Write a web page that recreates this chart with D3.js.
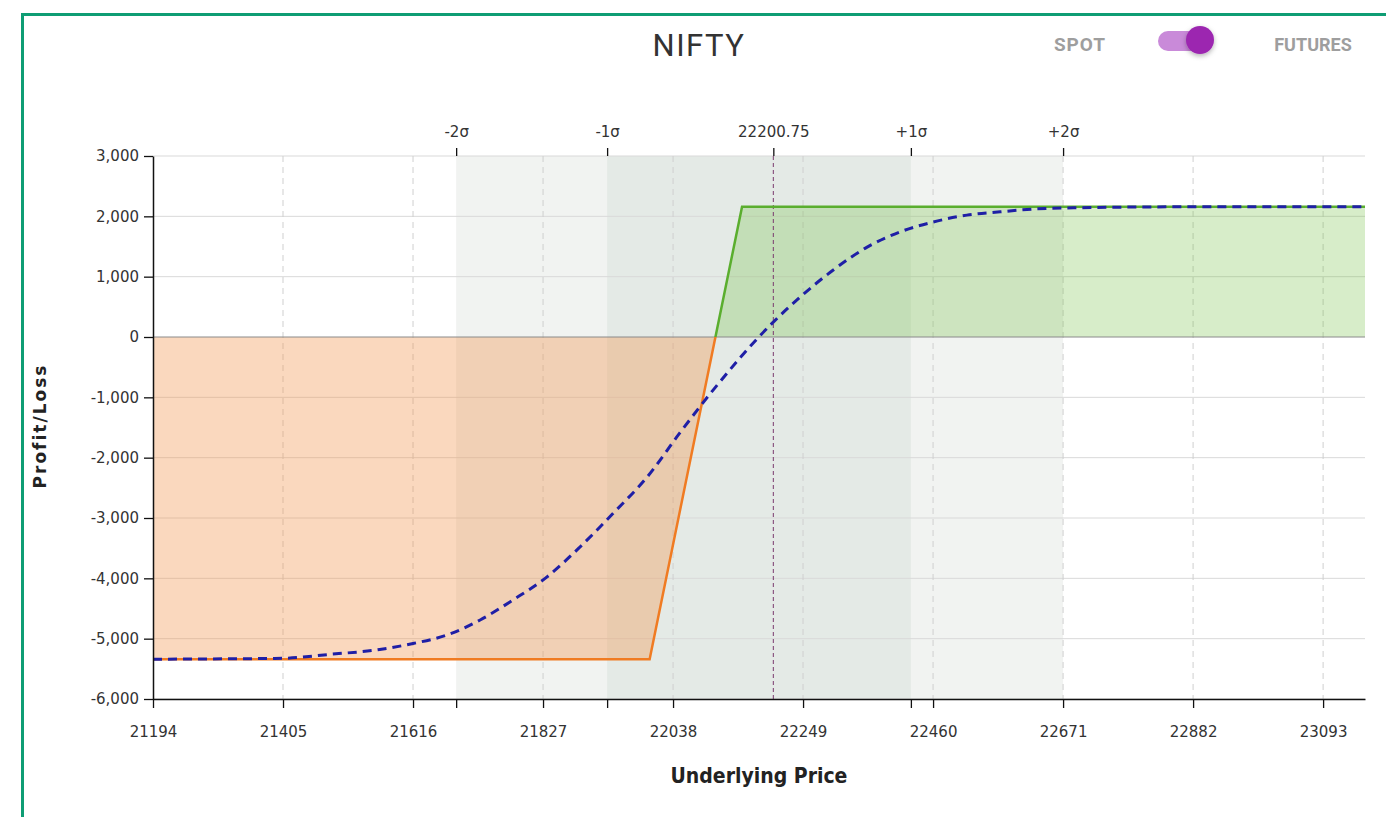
<!DOCTYPE html>
<html>
<head>
<meta charset="utf-8">
<script src="https://cdn.jsdelivr.net/npm/d3@7"></script>
<style>
  body { margin: 0; background: #fff; }
  svg { display: block; }
  .tick text { font-family: "DejaVu Sans", Verdana, sans-serif; font-size: 15px; fill: #333; }
</style>
</head>
<body>
<svg id="chart" width="1386" height="817"></svg>
<script>
// ticks along the price axis
const xTicks = [21194, 21405, 21616, 21827, 22038, 22249, 22460, 22671, 22882, 23093];
const yTicks = [3000, 2000, 1000, 0, -1000, -2000, -3000, -4000, -5000, -6000];

// standard deviation markers (top axis)
const sigmaLabels = ["-2σ", "-1σ", "22200.75", "+1σ", "+2σ"];
const sigmaPrices = [21686, 21931, 22200.75, 22424, 22671];

// payoff at expiry
const expiryPrice = [21194, 22000, 22150, 23161];
const expiryPnl = [-5340, -5340, 2160, 2160];

// payoff today (dashed curve)
const targetPrice = [21194, 21405, 21481, 21562, 21616, 21671, 21725, 21778, 21833, 21887, 21941, 21996,
  22049, 22103, 22199, 22244, 22298, 22353, 22406, 22460, 22515, 22569, 22622, 22677, 22882, 23161];
const targetPnl = [-5340, -5325, -5260, -5180, -5080, -4940, -4690, -4360, -3980, -3480, -2920, -2320,
  -1590, -880, 230, 660, 1110, 1490, 1740, 1905, 2020, 2075, 2120, 2140, 2158, 2160];

const svg = d3.select("#chart");

const mLeft = 153, mRight = 1365, mTop = 156, mBottom = 699;

const x = d3.scaleLinear().domain([21194, 23161]).range([mLeft, mRight]);
const y = d3.scaleLinear().domain([-6000, 3000]).range([mBottom, mTop]);

// green frame
svg.append("path")
  .attr("d", "M22.5,817 L22.5,14.5 L1386,14.5")
  .attr("fill", "none")
  .attr("stroke", "#0f9d74")
  .attr("stroke-width", 3);

// title + toggle
svg.append("text")
  .attr("x", 699).attr("y", 56)
  .attr("text-anchor", "middle")
  .style("font-family", "Roboto, sans-serif")
  .style("font-size", "31px")
  .style("letter-spacing", "1.5px")
  .style("fill", "#333")
  .text("NIFTY");

svg.append("text")
  .attr("x", 1080).attr("y", 51)
  .attr("text-anchor", "middle")
  .style("font-family", "Roboto, sans-serif")
  .style("font-weight", "bold")
  .style("font-size", "19px")
  .style("letter-spacing", "1px")
  .style("fill", "#9e9e9e")
  .text("SPOT");

svg.append("text")
  .attr("x", 1313).attr("y", 51)
  .attr("text-anchor", "middle")
  .style("font-family", "Roboto, sans-serif")
  .style("font-weight", "bold")
  .style("font-size", "18px")
  .style("fill", "#9e9e9e")
  .text("FUTURES");

const defs = svg.append("defs");
const shadow = defs.append("filter").attr("id", "knobShadow").attr("x", "-50%").attr("y", "-50%").attr("width", "200%").attr("height", "200%");
shadow.append("feDropShadow").attr("dx", 0).attr("dy", 2).attr("stdDeviation", 2.5).attr("flood-color", "#000").attr("flood-opacity", 0.3);

svg.append("rect")
  .attr("x", 1158).attr("y", 31)
  .attr("width", 46).attr("height", 20)
  .attr("rx", 10)
  .attr("fill", "#c98ad9");

svg.append("circle")
  .attr("cx", 1200).attr("cy", 40)
  .attr("r", 14)
  .attr("fill", "#9c27b0")
  .attr("filter", "url(#knobShadow)");

// sigma bands
svg.append("rect")
  .attr("x", x(sigmaPrices[0])).attr("y", mTop)
  .attr("width", x(sigmaPrices[4]) - x(sigmaPrices[0]))
  .attr("height", mBottom - mTop)
  .attr("fill", "#f1f3f1");

svg.append("rect")
  .attr("x", x(sigmaPrices[1])).attr("y", mTop)
  .attr("width", x(sigmaPrices[3]) - x(sigmaPrices[1]))
  .attr("height", mBottom - mTop)
  .attr("fill", "#e4eae6");

// grid
svg.append("g")
  .selectAll("line")
  .data(yTicks.filter(d => d !== 0))
  .join("line")
  .attr("x1", mLeft).attr("x2", mRight)
  .attr("y1", d => y(d)).attr("y2", d => y(d))
  .attr("stroke", "#d9d9d9")
  .attr("stroke-width", 1);

svg.append("g")
  .selectAll("line")
  .data(xTicks.slice(1))
  .join("line")
  .attr("x1", d => x(d)).attr("x2", d => x(d))
  .attr("y1", mTop).attr("y2", mBottom)
  .attr("stroke", "#cfcfcf")
  .attr("stroke-dasharray", "6,5")
  .attr("stroke-width", 1);

// profit / loss fills
defs.append("clipPath").attr("id", "clipUp")
  .append("rect").attr("x", mLeft).attr("y", mTop).attr("width", mRight - mLeft).attr("height", y(0) - mTop);
defs.append("clipPath").attr("id", "clipDown")
  .append("rect").attr("x", mLeft).attr("y", y(0)).attr("width", mRight - mLeft).attr("height", mBottom - y(0));

const expiry = expiryPrice.map((p, i) => ({ p: p, v: expiryPnl[i] }));
const target = targetPrice.map((p, i) => ({ p: p, v: targetPnl[i] }));

const area = d3.area()
  .x(d => x(d.p))
  .y0(y(0))
  .y1(d => y(d.v));

svg.append("path")
  .datum(expiry)
  .attr("d", area)
  .attr("clip-path", "url(#clipDown)")
  .attr("fill", "rgba(242,150,80,0.37)");

svg.append("path")
  .datum(expiry)
  .attr("d", area)
  .attr("clip-path", "url(#clipUp)")
  .attr("fill", "rgba(110,190,60,0.28)");

// zero line
svg.append("line")
  .attr("x1", mLeft).attr("x2", mRight)
  .attr("y1", y(0)).attr("y2", y(0))
  .attr("stroke", "#8a8a8a")
  .attr("stroke-width", 1);

// current price marker
svg.append("line")
  .attr("x1", x(sigmaPrices[2])).attr("x2", x(sigmaPrices[2]))
  .attr("y1", mTop).attr("y2", mBottom)
  .attr("stroke", "#7a3a6e")
  .attr("stroke-dasharray", "4,3")
  .attr("stroke-width", 1);

// expiry payoff line
const line = d3.line().x(d => x(d.p)).y(d => y(d.v));

svg.append("path")
  .datum(expiry)
  .attr("d", line)
  .attr("clip-path", "url(#clipDown)")
  .attr("fill", "none")
  .attr("stroke", "#f07b22")
  .attr("stroke-width", 2.5);

svg.append("path")
  .datum(expiry)
  .attr("d", line)
  .attr("clip-path", "url(#clipUp)")
  .attr("fill", "none")
  .attr("stroke", "#5aae2e")
  .attr("stroke-width", 2.5);

// today's payoff
svg.append("path")
  .datum(target)
  .attr("d", d3.line().x(d => x(d.p)).y(d => y(d.v)).curve(d3.curveMonotoneX))
  .attr("fill", "none")
  .attr("stroke", "#1f1fa6")
  .attr("stroke-width", 3)
  .attr("stroke-dasharray", "9,6");

// axes
const fmt = d => d3.format(",")(d).replace("−", "-");

const yAxis = svg.append("g")
  .attr("transform", `translate(${mLeft},0)`)
  .call(d3.axisLeft(y).tickValues(yTicks).tickFormat(fmt).tickSize(9).tickSizeOuter(0).tickPadding(5));

const xAxis = svg.append("g")
  .attr("transform", `translate(0,${mBottom})`)
  .call(d3.axisBottom(x).tickValues(xTicks).tickFormat(d3.format("d")).tickSize(9).tickSizeOuter(0).tickPadding(18));

svg.append("g")
  .attr("transform", `translate(0,${mBottom})`)
  .call(d3.axisBottom(x).tickValues([sigmaPrices[0], sigmaPrices[1], sigmaPrices[3]]).tickFormat("").tickSize(9).tickSizeOuter(0))
  .call(g => g.select(".domain").remove())
  .call(g => g.selectAll(".tick line").attr("stroke", "#111").attr("stroke-width", 1.3));

const sigmaAxis = svg.append("g")
  .attr("transform", `translate(0,${mTop})`)
  .call(d3.axisTop(x).tickValues(sigmaPrices).tickFormat((d, i) => sigmaLabels[i]).tickSize(8).tickPadding(11));
sigmaAxis.select(".domain").remove();

[yAxis, xAxis, sigmaAxis].forEach(g => {
  g.selectAll(".domain").attr("stroke", "#111").attr("stroke-width", 1.5);
  g.selectAll(".tick line").attr("stroke", "#111").attr("stroke-width", 1.3);
});

// axis titles
svg.append("text")
  .attr("x", 759).attr("y", 783)
  .attr("text-anchor", "middle")
  .style("font-family", "'DejaVu Sans Condensed', 'DejaVu Sans', sans-serif")
  .style("font-weight", "bold")
  .style("font-size", "21px")
  .style("fill", "#222")
  .text("Underlying Price");

svg.append("text")
  .attr("transform", "translate(46,426) rotate(-90)")
  .attr("text-anchor", "middle")
  .style("font-family", "'DejaVu Sans', sans-serif")
  .style("font-weight", "bold")
  .style("font-size", "17px")
  .style("letter-spacing", "2px")
  .style("fill", "#222")
  .text("Profit/Loss");
</script>
</body>
</html>
